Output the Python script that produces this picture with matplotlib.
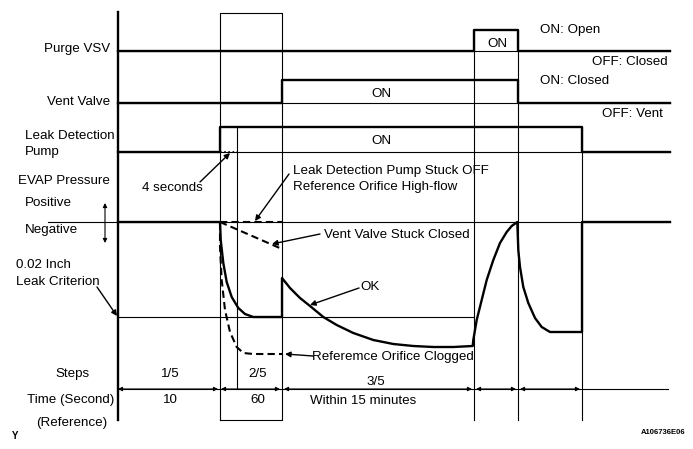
import matplotlib
matplotlib.use("Agg")
import matplotlib.pyplot as plt

plt.rcParams['font.family'] = ['Liberation Sans', 'DejaVu Sans']

# ---- schematic data (diagram units) ----
# phase boundaries along the time direction
phase_x = [118, 220, 237, 282, 474, 518, 582, 670]

# digital signals: breakpoints (x) and levels (y, low/high)
purge_x = [118, 474, 474, 518, 518, 670]
purge_y = [51, 51, 30, 30, 51, 51]
vent_x = [118, 282, 282, 518, 518, 670]
vent_y = [103, 103, 80, 80, 103, 103]
pump_x = [118, 220, 220, 582, 582, 670]
pump_y = [152, 152, 127, 127, 152, 152]

# EVAP pressure levels
negative_level = 222
criterion_level = 317

# EVAP pressure curves
ok_x = [118, 220, 220.7, 223.3, 226.7, 231.7, 238.3, 245, 253.3, 282, 282, 290, 300, 310,
        323.3, 336.7, 353.3, 373.3, 393.3, 413.3, 433.3, 453.3, 472.7, 473.3, 476.7, 481.7,
        486.7, 493.3, 500, 506.7, 511.7, 517.3, 518.3, 520, 523.3, 528.3, 535, 541.7, 550,
        582, 582, 670]
ok_y = [222, 222, 240, 263, 282, 297, 308, 314, 317, 317, 278, 288, 298, 306,
        317, 325, 333, 340, 344, 346, 347, 347, 346, 340, 320, 300,
        280, 260, 243, 232, 226, 222, 250, 267, 287, 303, 318, 327, 332,
        332, 222, 222]
clog_x = [220, 220, 221.7, 225, 230, 236.7, 243.3, 253.3, 282]
clog_y = [222, 247, 280, 310, 332, 347, 353, 354, 354]
ventstuck_x = [220, 282]
ventstuck_y = [222, 249]
pumpstuck_x = [220, 282]
pumpstuck_y = [222, 222]

# step dimension segments
step_segments = [(118, 218), (221, 280), (284, 472), (476, 516), (520, 580)]
step_labels = ["1/5", "2/5", "3/5"]
time_labels = ["10", "60", "Within 15 minutes"]
row_labels = ["Purge VSV", "Vent Valve", "Leak Detection\nPump", "EVAP Pressure"]

# ---- figure ----
fig = plt.figure(figsize=(6.93, 4.49), dpi=100)
ax = fig.add_axes([0, 0, 1, 1])
ax.set_xlim(0, 693)
ax.set_ylim(449, 0)
ax.axis('off')

K = 'black'
thin = 0.8
thick = 1.7
FS = 9.6
DASH = (0, (3.5, 2))

# left axis line
ax.plot([118, 118], [12, 420], color=K, lw=thick)
# 2/5 box
ax.plot([220, 220, 282, 282, 220], [420, 13, 13, 420, 420], color=K, lw=thin)
# inner 4-second line
ax.plot([237, 237], [127, 389], color=K, lw=thin)
# other verticals
ax.plot([474, 474], [30, 420], color=K, lw=thin)
ax.plot([518, 518], [30, 420], color=K, lw=thin)
ax.plot([582, 582], [127, 420], color=K, lw=thin)

# thin baselines
for yy in (purge_y[0], vent_y[0], pump_y[0]):
    ax.plot([118, 670], [yy, yy], color=K, lw=thin)
ax.plot([48, 670], [negative_level, negative_level], color=K, lw=thin)
ax.plot([118, 474], [criterion_level, criterion_level], color=K, lw=thin)

# signals
ax.plot(purge_x, purge_y, color=K, lw=thick)
ax.plot(vent_x, vent_y, color=K, lw=thick)
ax.plot(pump_x, pump_y, color=K, lw=thick)
ax.plot([220, 237], [152, 152], color=K, lw=1.2, ls=(0, (1, 1.5)))

# pressure curves
ax.plot(ok_x, ok_y, color=K, lw=thick, solid_joinstyle='round')
ax.plot(clog_x, clog_y, color=K, lw=1.5, ls=DASH)
ax.plot(ventstuck_x, ventstuck_y, color=K, lw=1.5, ls=DASH)
ax.plot(pumpstuck_x, pumpstuck_y, color=K, lw=1.5, ls=DASH)

# steps dimension line
ax.plot([118, 668], [389, 389], color=K, lw=thin)
for a, b in step_segments:
    ax.annotate('', xy=(a, 389), xytext=(b, 389),
                arrowprops=dict(arrowstyle='<|-|>', color=K, lw=0.8,
                                mutation_scale=6, shrinkA=0, shrinkB=0))

def txt(x, y, s, ha='left', va='center', fs=FS, **kw):
    ax.text(x, y, s, ha=ha, va=va, fontsize=fs, color=K, **kw)

# row labels
txt(110, 49, row_labels[0], ha='right')
txt(110, 102, row_labels[1], ha='right')
txt(25, 136, "Leak Detection")
txt(25, 152, "Pump")
txt(18, 181, row_labels[3])
txt(25, 203, "Positive")
txt(25, 230, "Negative")
txt(16, 265, "0.02 Inch")
txt(16, 282, "Leak Criterion")
ax.annotate('', xy=(105, 203), xytext=(105, 243),
            arrowprops=dict(arrowstyle='<|-|>', color=K, lw=0.8,
                            mutation_scale=6, shrinkA=0, shrinkB=0))
ax.annotate('', xy=(117, 316), xytext=(97, 287),
            arrowprops=dict(arrowstyle='-|>', color=K, lw=1.0,
                            mutation_scale=8, shrinkA=0, shrinkB=0))

# state labels
txt(540, 30, "ON: Open")
txt(668, 62, "OFF: Closed", ha='right')
txt(540, 81, "ON: Closed")
txt(663, 114, "OFF: Vent", ha='right')
txt(497, 44, "ON", ha='center')
txt(381, 94, "ON", ha='center')
txt(381, 141, "ON", ha='center')

# annotations
txt(142, 188, "4 seconds")
ax.annotate('', xy=(230, 153), xytext=(200, 182),
            arrowprops=dict(arrowstyle='-|>', color=K, lw=1.0,
                            mutation_scale=8, shrinkA=0, shrinkB=0))
txt(293, 171, "Leak Detection Pump Stuck OFF")
txt(293, 187, "Reference Orifice High-flow")
ax.annotate('', xy=(255, 221), xytext=(289, 174),
            arrowprops=dict(arrowstyle='-|>', color=K, lw=1.0,
                            mutation_scale=8, shrinkA=0, shrinkB=0))
txt(324, 235, "Vent Valve Stuck Closed")
ax.annotate('', xy=(272, 244), xytext=(320, 234),
            arrowprops=dict(arrowstyle='-|>', color=K, lw=1.0,
                            mutation_scale=8, shrinkA=0, shrinkB=0))
txt(360, 287, "OK")
ax.annotate('', xy=(310, 305), xytext=(359, 288),
            arrowprops=dict(arrowstyle='-|>', color=K, lw=1.0,
                            mutation_scale=8, shrinkA=0, shrinkB=0))
txt(312, 357, "Referemce Orifice Clogged")
ax.annotate('', xy=(285, 354), xytext=(313, 356),
            arrowprops=dict(arrowstyle='-|>', color=K, lw=1.0,
                            mutation_scale=8, shrinkA=0, shrinkB=0))

# bottom rows
txt(55, 374, "Steps")
txt(170, 374, step_labels[0], ha='center')
txt(258, 374, step_labels[1], ha='center')
txt(376, 382, step_labels[2], ha='center')
txt(27, 400, "Time (Second)")
txt(170, 400, time_labels[0], ha='center')
txt(258, 400, time_labels[1], ha='center')
txt(310, 401, time_labels[2])
txt(36, 423, "(Reference)")
txt(12, 436, "Y", fs=7, fontweight='bold')
txt(685, 432, "A106736E06", ha='right', fs=5.5, fontweight='bold')

fig.savefig("out.png", dpi=100)
